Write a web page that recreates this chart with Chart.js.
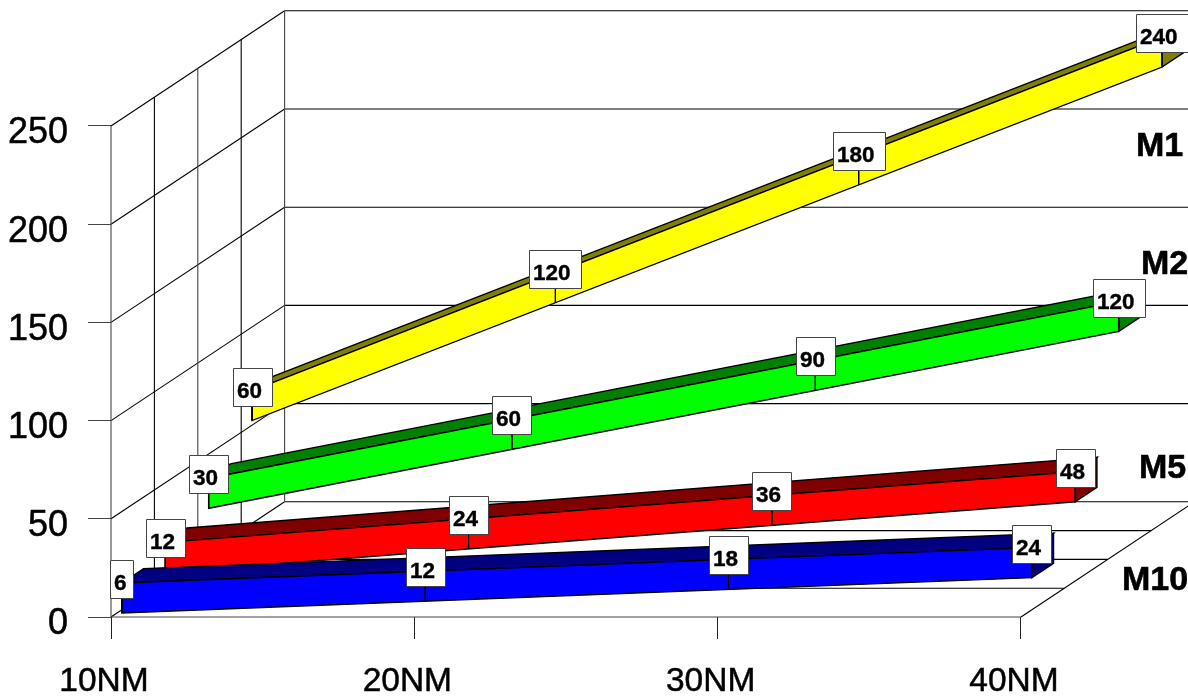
<!DOCTYPE html>
<html><head><meta charset="utf-8">
<style>html,body{margin:0;padding:0;background:#fff;overflow:hidden}canvas{display:block}</style>
<script src="https://cdn.jsdelivr.net/npm/chart.js@4"></script>
</head><body><canvas id="c" width="1188" height="696"></canvas>
<script>
const categories = ['10NM','20NM','30NM','40NM'];
const valueTicks = [0,50,100,150,200,250];
const seriesNames = ['M10','M5','M2','M1'];
const m10 = [6,12,18,24];
const m5 = [12,24,36,48];
const m2 = [30,60,90,120];
const m1 = [60,120,180,240];
const seriesValues = [m10,m5,m2,m1];
const frontColors = ['#0000ff','#ff0000','#00ff00','#ffff00'];
const shadeColors = ['#000080','#800000','#008000','#808000'];

// oblique projection, in data units per depth slot
const DEPTH_X = 43.4/303.33, DEPTH_Y = 28.8/1.964, HALF = 7.64;
const P = (cat,val,d)=>({x:cat+d*DEPTH_X, y:val+d*DEPTH_Y});
const layers = [];
const poly = (pts,fillColor,color,width)=>layers.push({
  data:pts, showLine:true, pointRadius:0, pointHoverRadius:0, tension:0, clip:false,
  borderColor:color||'#000', borderWidth:width||1.4,
  backgroundColor:fillColor||'transparent', fill:fillColor?'shape':false
});
const last = categories.length-1, slots = seriesNames.length;
const wall='#000', wallSoft='#444';
// walls and floor
valueTicks.forEach(v=>{
  poly([P(0,v,0),P(0,v,slots)],null,wall,1.1);
  poly([P(0,v,slots),P(last+0.575,v,slots)],null,wall,1.1);
});
for(let d=0;d<=slots;d++){
  poly([P(0,0,d),P(0,valueTicks[valueTicks.length-1],d)],null,d%2?'#000':wallSoft,1.1);
  if(d<slots) poly([P(0,0,d),P(last,0,d)],null,d?wall:wallSoft,1.1);
}
poly([P(last,0,0),P(last,0,slots)],null,wall,1.1);
// ribbons, back to front
for(let s=slots-1;s>=0;s--){
  const vals=seriesValues[s], d0=s+0.25, d1=s+0.75;
  const n=vals.length-1;
  poly([P(0,vals[0]+HALF,d0),P(n,vals[n]+HALF,d0),P(n,vals[n]+HALF,d1),P(0,vals[0]+HALF,d1),P(0,vals[0]+HALF,d0)],shadeColors[s]);
  poly([P(n,vals[n]+HALF,d0),P(n,vals[n]-HALF,d0),P(n,vals[n]-HALF,d1),P(n,vals[n]+HALF,d1),P(n,vals[n]+HALF,d0)],shadeColors[s]);
  poly([P(0,vals[0]+HALF,d0),P(n,vals[n]+HALF,d0),P(n,vals[n]-HALF,d0),P(0,vals[0]-HALF,d0),P(0,vals[0]+HALF,d0)],frontColors[s]);
  vals.forEach((v,i)=>poly([P(i,v,d0),P(i,v-HALF,d0)],null,'#000',1));
}
layers.forEach((l,i)=>l.order=layers.length-i);

const nameSpots = {M1:[1136,156],M2:[1141,274],M5:[1139,478],M10:[1122,590]};
const boxExtra = {1:10.5,2:14,3:14.5};
const valueLabels = {
  id:'valueLabels',
  afterDatasetsDraw(chart){
    const {ctx,scales:{x,y}}=chart;
    ctx.save();
    ctx.textBaseline='alphabetic'; ctx.textAlign='left';
    ctx.lineJoin='round';
    for(let s=slots-1;s>=0;s--){
      seriesValues[s].forEach((v,i)=>{
        const p=P(i,v,s+0.25);
        const px=x.getPixelForValue(p.x), py=y.getPixelForValue(p.y);
        const t=String(v);
        ctx.font='bold 22.5px "Liberation Sans"';
        const tw=ctx.measureText(t).width;
        const w=Math.round(tw+boxExtra[t.length]), h=38, bx=Math.round(px-w/2), by=Math.round(py-h);
        ctx.fillStyle='#fff'; ctx.strokeStyle='#444'; ctx.lineWidth=1;
        ctx.fillRect(bx,by,w,h); ctx.strokeRect(bx+.5,by+.5,w,h);
        ctx.fillStyle='#000'; ctx.strokeStyle='#000'; ctx.lineWidth=0.4;
        ctx.fillText(t,bx+4,by+h-8); ctx.strokeText(t,bx+4,by+h-8);
      });
    }
    ctx.font='bold 34px "Liberation Sans"';
    ctx.fillStyle='#000'; ctx.strokeStyle='#000'; ctx.lineWidth=0.6;
    seriesNames.forEach(n=>{ctx.fillText(n,nameSpots[n][0],nameSpots[n][1]);ctx.strokeText(n,nameSpots[n][0],nameSpots[n][1]);});
    ctx.restore();
  }
};

new Chart(document.getElementById('c'),{
  type:'scatter',
  data:{datasets:layers},
  plugins:[valueLabels],
  options:{
    responsive:false, animation:false, devicePixelRatio:1,
    layout:{padding:0},
    plugins:{legend:{display:false},tooltip:{enabled:false}},
    events:[],
    scales:{
      x:{type:'linear',min:0,max:1077/303.33,
        afterFit(s){s.height=79;s.paddingLeft=0;s.paddingRight=0;},
        afterBuildTicks(s){s.ticks=categories.map((_,i)=>({value:i}));},
        border:{display:false},
        grid:{drawOnChartArea:false,drawTicks:true,tickLength:22,color:'#222'},
        ticks:{autoSkip:false,maxRotation:0,minRotation:0,padding:23,labelOffset:-7,color:'#000',
          textStrokeColor:'#000',textStrokeWidth:0.5,
          font:{family:'"Liberation Sans"',size:33.5},callback:v=>categories[v]}
      },
      y:{type:'linear',min:0,max:617/1.964,
        afterFit(s){s.width=111;s.paddingTop=0;s.paddingBottom=0;},
        afterBuildTicks(s){s.ticks=valueTicks.map(v=>({value:v}));},
        border:{display:false},
        grid:{drawOnChartArea:false,drawTicks:true,tickLength:23,color:'#444'},
        ticks:{padding:20,labelOffset:7.5,color:'#000',
          textStrokeColor:'#000',textStrokeWidth:0.5,
          font:{family:'"Liberation Sans"',size:36}}
      }
    }
  }
});
</script></body></html>
